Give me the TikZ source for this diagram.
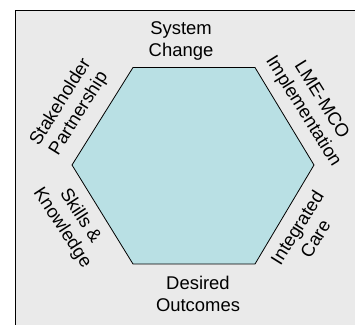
\documentclass[tikz,border=0pt]{standalone}
\usepackage{fontspec}
\setmainfont{Liberation Sans}

\definecolor{panelgray}{RGB}{234,234,234}
\definecolor{hexfill}{RGB}{185,224,228}

\tikzset{
  sidelabel/.style={align=center,inner sep=0pt,font=\fontsize{18.5}{21.5}\selectfont},
  hexface/.style={draw=black,fill=hexfill,line width=0.8bp}
}

\begin{document}
\begin{tikzpicture}[x=1bp,y=1bp]
    \useasboundingbox (0,0) rectangle (355,325);
    \clip (0,0) rectangle (355,325);
    % grey panel, only its top and left edges are in view
    \draw[fill=panelgray,line width=1bp] (15,314) rectangle (362,-6);

    % hexagon
    \draw[hexface] (133,257.5) -- (255,257.5) -- (314,160) -- (255,61) -- (133,61) -- (72,160) -- cycle;

    % labels round the sides
    \node[sidelabel] (syschange) at (181,284) {System\\Change};
    \node[sidelabel] (outcomes) at (198,31) {Desired\\Outcomes};
    \node[sidelabel,rotate=58] (partner) at (70,217) {Stakeholder\\Partnership};
    \node[sidelabel,rotate=-58] (lmemco) at (312,219) {LME-MCO\\Implementation};
    \node[sidelabel,rotate=-57] (skills) at (71,103) {Skills \&\\Knowledge};
    \node[sidelabel,rotate=58] (intcare) at (306,92) {Integrated\\Care};
\end{tikzpicture}
\end{document}
